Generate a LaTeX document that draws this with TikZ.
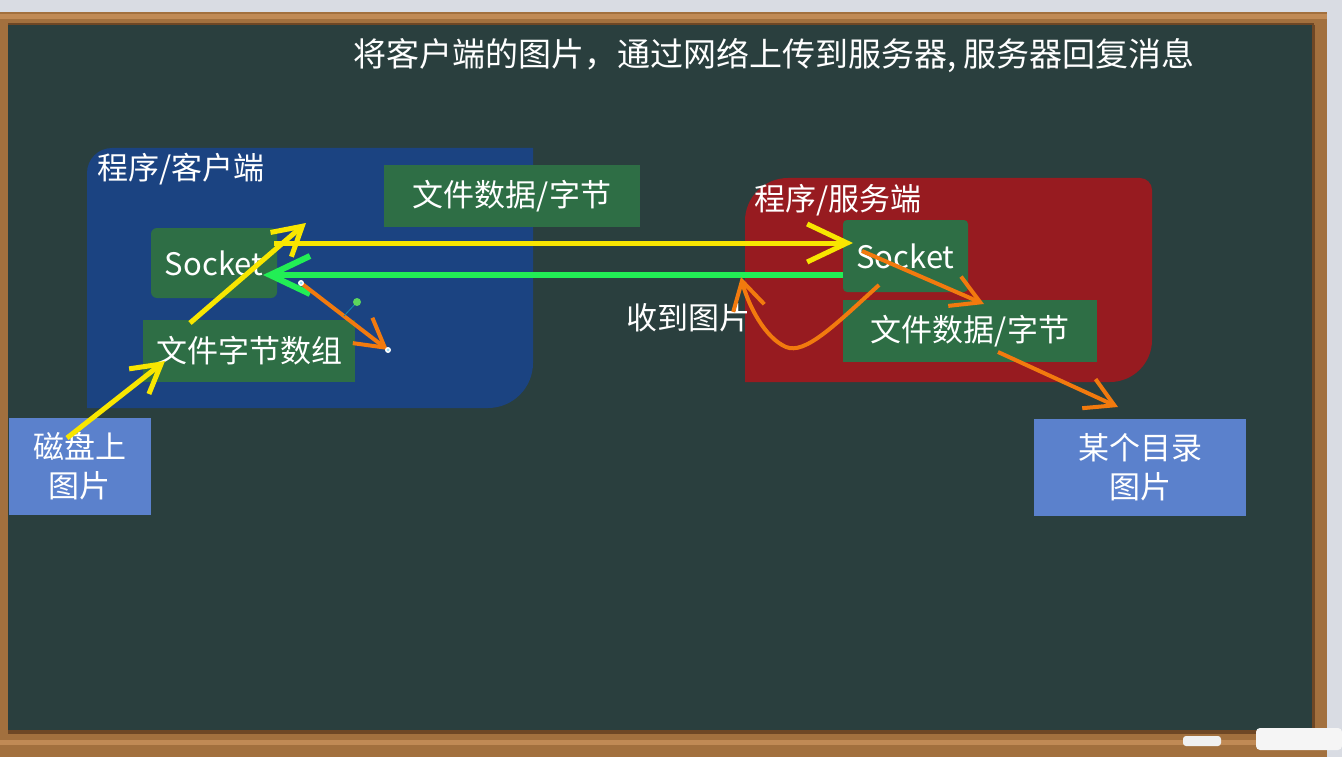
\documentclass[tikz,border=0pt]{standalone}
\usepackage{fontspec}
\setmainfont{Noto Sans CJK SC}
\usetikzlibrary{arrows.meta}
\definecolor{page}{HTML}{D9DCE3}
\definecolor{wood}{HTML}{A2703E}
\definecolor{wooddark}{HTML}{6E4725}
\definecolor{woodlight}{HTML}{C08A55}
\definecolor{board}{HTML}{2A3F3E}
\definecolor{clientblue}{HTML}{1B4381}
\definecolor{serverred}{HTML}{971B20}
\definecolor{boxgreen}{HTML}{2E6E45}
\definecolor{boxblue}{HTML}{5B81CC}
\definecolor{ayellow}{HTML}{F8E600}
\definecolor{agreen}{HTML}{22EE55}
\definecolor{aorange}{HTML}{F27A0E}
\begin{document}
\begin{tikzpicture}[x=1pt,y=-1pt,
  txt/.style={inner sep=0pt, text=white, font=\fontsize{31}{39}\selectfont, align=center},
  gbox/.style={txt, fill=boxgreen},
  bbox/.style={txt, fill=boxblue},
  bigtip/.style={-{Straight Barb[length=40pt,width=38pt]}},
  smalltip/.style={-{Straight Barb[length=28pt,width=32pt]}},
  yarrow/.style={draw=ayellow, line width=5pt},
  garrow/.style={draw=agreen, line width=6pt},
  oarrow/.style={draw=aorange, line width=4pt}]
\useasboundingbox (0,0) rectangle (1342,757);
% page and blackboard frame
\fill[page] (0,0) rectangle (1342,757);
\fill[wood] (0,12) rectangle (1327,757);
\fill[woodlight] (0,14) rectangle (1327,19);
\fill[wooddark] (8,23) rectangle (1314,26);
\fill[board] (8,25) rectangle (1312,730);
\fill[wooddark] (8,730) rectangle (1314,734);
\fill[woodlight] (0,740) rectangle (1327,745);
\fill[wooddark] (1312,25) rectangle (1315,730);
% chalk and eraser
\fill[white!88!gray, rounded corners=3pt] (1183,736) rectangle (1221,746);
\fill[white!92!gray, rounded corners=4pt] (1256,728) rectangle (1342,750);
% program areas
\fill[clientblue] (87,408) -- (87,173) arc[start angle=180,end angle=90,radius=25pt]
  -- (533,148) -- (533,363) arc[start angle=0,end angle=-90,radius=45pt] -- cycle;
\fill[serverred] (745,382) -- (745,221) arc[start angle=180,end angle=90,radius=43pt]
  -- (1140,178) arc[start angle=90,end angle=0,radius=12pt]
  -- (1152,340) arc[start angle=0,end angle=-90,radius=42pt] -- cycle;
% labels
\node[txt, font=\fontsize{33}{38}\selectfont] (title) at (774,56) {将客户端的图片，通过网络上传到服务器, 服务器回复消息};
\node[txt] (clabel) at (181,169) {程序/客户端};
\node[txt] (slabel) at (838,200) {程序/服务端};
\node[txt] (recv) at (688,318) {收到图片};
% boxes
\node[gbox, minimum width=126pt, minimum height=70pt, rounded corners=6pt] (csock) at (214,263) {Socket};
\node[gbox, minimum width=212pt, minimum height=62pt] (carr) at (249,351) {文件字节数组};
\node[gbox, minimum width=256pt, minimum height=62pt] (cdata) at (512,196) {文件数据/字节};
\node[gbox, minimum width=125pt, minimum height=72pt, rounded corners=4pt] (ssock) at (905.5,256) {Socket};
\node[gbox, minimum width=254pt, minimum height=62pt] (sdata) at (970,331) {文件数据/字节};
\node[bbox, minimum width=142pt, minimum height=97pt] (disk) at (80,466.5) {磁盘上\\图片};
\node[bbox, minimum width=212pt, minimum height=97pt] (dir) at (1140,467.5) {某个目录\\图片};
% connector end points
\coordinate (p1s) at (67,438);
\coordinate (p1e) at (165,361);
\coordinate (p2s) at (190,323);
\coordinate (p2e) at (306,223);
\coordinate (p3s) at (274,243);
\coordinate (p3e) at (853,243);
\coordinate (p4s) at (843,275);
\coordinate (p4e) at (263,275);
\coordinate (p5s) at (301,283);
\coordinate (p5e) at (388,350);
\coordinate (p6s) at (862,251);
\coordinate (p6e) at (984,304);
\coordinate (p7s) at (879,285);
\coordinate (p7m) at (786,347);
\coordinate (p7e) at (741,277);
\coordinate (p8s) at (998,352);
\coordinate (p8e) at (1118,407);
\coordinate (hdl) at (357,302);
\coordinate (hdb) at (344,316);
% connectors
\draw[yarrow, smalltip] (p1s) -- (p1e);
\draw[yarrow, smalltip] (p2s) -- (p2e);
\draw[yarrow, bigtip] (p3s) -- (p3e);
\draw[garrow, bigtip] (p4s) -- (p4e);
\draw[oarrow, smalltip] (p5s) -- (p5e);
\draw[oarrow, smalltip] (p6s) -- (p6e);
\draw[oarrow, smalltip] (p7s) .. controls (835,325) and (805,355) .. (p7m)
  .. controls (765,338) and (748,305) .. (p7e);
\draw[oarrow, smalltip] (p8s) -- (p8e);
% selection handles
\draw[draw=clientblue!60!cyan, line width=0.8pt] (hdl) -- (hdb);
\fill[green!60!gray!80!white] (hdl) circle[radius=4pt];
\fill[white] (p5s) circle[radius=3pt];
\fill[white] (p5e) circle[radius=3pt];
\fill[cyan!40!white] (p5s) circle[radius=1.5pt];
\fill[cyan!40!white] (p5e) circle[radius=1.5pt];
\end{tikzpicture}
\end{document}
